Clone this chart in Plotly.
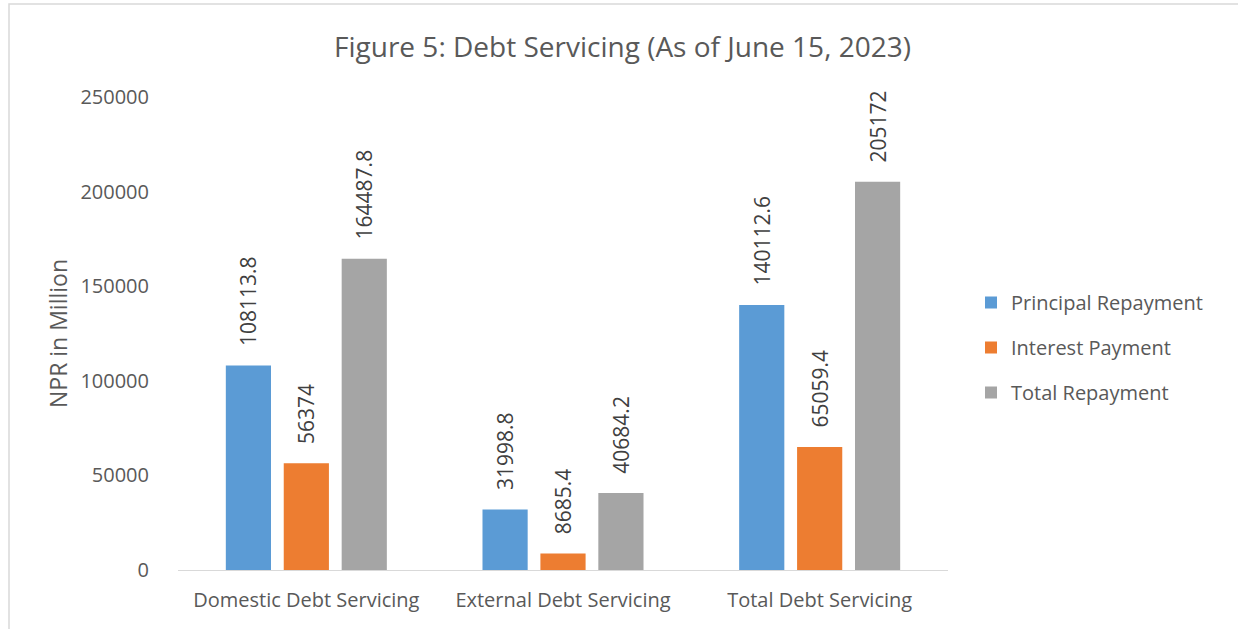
import plotly.graph_objects as go

categories = ["Domestic Debt Servicing", "External Debt Servicing", "Total Debt Servicing"]
principal = [108113.8, 31998.8, 140112.6]
interest = [56374, 8685.4, 65059.4]
total = [164487.8, 40684.2, 205172]
series_names = ["Principal Repayment", "Interest Payment", "Total Repayment"]
colors = ["#5B9BD5", "#ED7D31", "#A5A5A5"]

FONT = "Open Sans"
TXT = "#595959"
PAD = "\u00a0\u00a0\u00a0"

fig = go.Figure()
for name, vals, col in zip(series_names, [principal, interest, total], colors):
    fig.add_trace(go.Bar(
        x=categories, y=vals, name=name, marker_color=col, marker_line_width=0,
        text=[PAD + str(v) for v in vals], textposition="outside", textangle=-90,
        constraintext="none", legendgroup=name,
        textfont=dict(family=FONT, size=21, color="#404040"), cliponaxis=False,
    ))

W, H = 1238, 629
L, R, T, B = 178, 290, 97, 59
pw = W - L - R
ph = H - T - B

fig.update_layout(
    width=W, height=H,
    margin=dict(l=L, r=R, t=T, b=B),
    paper_bgcolor="white", plot_bgcolor="white",
    barmode="group", bargap=0.323, bargroupgap=0.22,
    uniformtext=dict(mode=False),
    title=dict(text="Figure 5: Debt Servicing (As of June 15, 2023)", x=(330+915)/2/W, xanchor="center",
               y=1-47/H, yanchor="middle", font=dict(family=FONT, size=28, color=TXT)),
    font=dict(family=FONT, color=TXT),
    legend=dict(x=(971-L)/pw, xanchor="left", y=(H-B-283)/ph, yanchor="top",
                font=dict(family=FONT, size=20, color=TXT), tracegroupgap=16, itemsizing="constant",
                bgcolor="rgba(0,0,0,0)"),
    xaxis=dict(showgrid=False, showline=False, ticks="", ticklabelstandoff=16,
               tickfont=dict(family=FONT, size=20, color=TXT)),
    yaxis=dict(range=[0, 250000], dtick=50000, showgrid=False, zeroline=True, zerolinecolor="#D9D9D9",
               zerolinewidth=1, showline=False, ticks="", tickformat="d",
               tickfont=dict(family=FONT, size=20, color=TXT), ticklabelstandoff=28,
               title=dict(text="NPR in Million", font=dict(family=FONT, size=23, color=TXT), standoff=6)),
    shapes=[dict(type="rect", xref="paper", yref="paper",
                 x0=(9-L)/pw, x1=(W+20-L)/pw, y0=(H-B-(H+20))/ph, y1=(H-B-4)/ph,
                 line=dict(color="#D9D9D9", width=1.5), fillcolor="rgba(0,0,0,0)", layer="below")],
)

fig.write_html("out.html")
